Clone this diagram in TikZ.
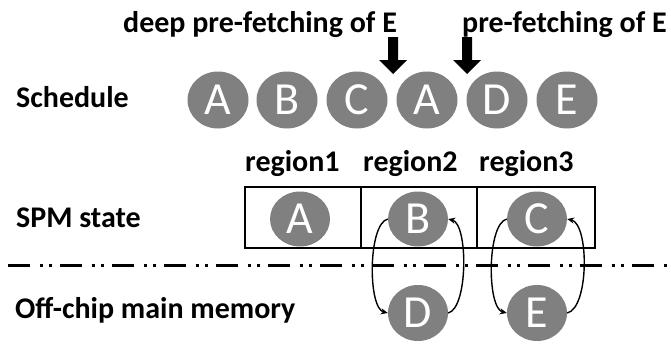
\documentclass[tikz,border=0pt]{standalone}
\usepackage{fontspec}
\setmainfont{Carlito}
\usetikzlibrary{shapes.geometric,arrows.meta}
\definecolor{ballgray}{RGB}{128,128,128}
\begin{document}
\begin{tikzpicture}[x=1pt,y=-1pt,
  ball/.style={ellipse, fill=ballgray, text=white, inner sep=0pt,
    minimum width=61pt, minimum height=57pt, font=\fontsize{46}{46}\selectfont},
  sball/.style={ball, minimum width=60pt, minimum height=55pt},
  lbl/.style={anchor=base west, inner sep=0pt, font=\fontsize{30}{30}\selectfont\bfseries},
  regionbox/.style={draw, line width=1.4pt, inner sep=0pt, minimum height=61pt},
  swap/.style={line width=1.4pt, -{Stealth[length=7pt,width=6pt]}},
  bigarrow/.style={fill=black},
  boundary/.style={line width=3pt, dash pattern=on 22pt off 10pt on 3pt off 6pt on 3pt off 8pt}]

\useasboundingbox (0,0) rectangle (671,343);

% headings and row labels
\node[lbl] (deep) at (123,32) {deep pre-fetching of E};
\node[lbl] (pref) at (462,32) {pre-fetching of E};
\node[lbl] (lsched) at (16,107) {Schedule};
\node[lbl] (lspm) at (16,227) {SPM state};
\node[lbl] (loff) at (15,318) {Off-chip main memory};

% access schedule
\node[ball] (q1) at (218,100) {A};
\node[ball] (q2) at (287,100) {B};
\node[ball] (q3) at (357,100) {C};
\node[ball] (q4) at (427,100) {A};
\node[ball] (q5) at (497,100) {D};
\node[ball] (q6) at (567,100) {E};

% pre-fetch points
\coordinate (p1) at (393,37);
\coordinate (p2) at (467,37);
\foreach \p in {p1,p2}
  \fill[bigarrow] (\p) ++(-5,0) -- ++(10,0) -- ++(0,23) -- ++(9,0)
    -- ++(-14,14) -- ++(-14,-14) -- ++(9,0) -- cycle;

% SPM regions
\node[regionbox, minimum width=116pt] (r1) at (303,217.5) {};
\node[regionbox, minimum width=116pt] (r2) at (419,217.5) {};
\node[regionbox, minimum width=118pt] (r3) at (536,217.5) {};
\node[lbl, anchor=base west] (t1) at (245,171) {region1};
\node[lbl, anchor=base west] (t2) at (363,171) {region2};
\node[lbl, anchor=base west] (t3) at (479,171) {region3};

\node[sball] (sA) at (300,219) {A};
\node[sball] (sB) at (418,219) {B};
\node[sball] (sC) at (537,219) {C};

% chip boundary
\coordinate (bl) at (8,265);
\coordinate (br) at (671,265);
\draw[boundary] (bl) -- (br);

% off-chip blocks
\node[sball, minimum height=56pt] (mD) at (418,313) {D};
\node[sball, minimum height=56pt] (mE) at (537,313) {E};

% swaps between SPM and main memory
\draw[swap] (sB.west) .. controls +(-20,5) and +(-20,-5) .. (mD.west);
\draw[swap] (mD.east) .. controls +(20,-5) and +(20,5) .. (sB.east);
\draw[swap] (sC.west) .. controls +(-20,5) and +(-20,-5) .. (mE.west);
\draw[swap] (mE.east) .. controls +(22,-5) and +(22,5) .. (sC.east);
\end{tikzpicture}
\end{document}
